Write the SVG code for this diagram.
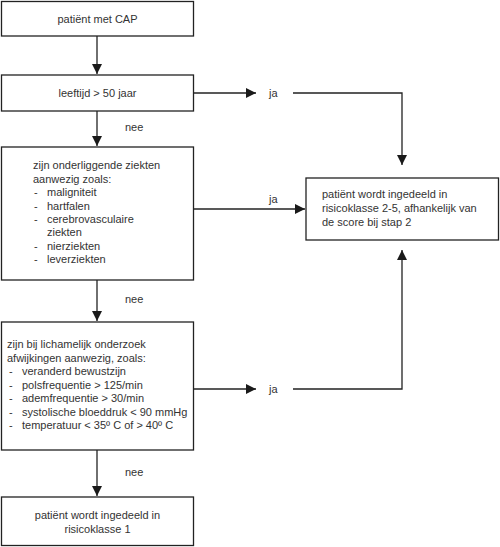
<svg xmlns="http://www.w3.org/2000/svg" width="500" height="547" viewBox="0 0 500 547">
<defs>
<marker id="ah" viewBox="0 0 10 10" refX="10" refY="5" markerWidth="10" markerHeight="10" markerUnits="userSpaceOnUse" orient="auto">
<path d="M0,0 L10,5 L0,10 z" fill="#1a1a1a"/>
</marker>
<style>
.box{fill:#fff;stroke:#222;stroke-width:1.3}
.t{font-family:"Liberation Sans",Arial,sans-serif;font-size:11px;fill:#333}
.c{text-anchor:middle}
.ln{fill:none;stroke:#222;stroke-width:1.3}
</style>
</defs>
<rect width="500" height="547" fill="#fff"/>
<g id="n1"><rect class="box" x="1.5" y="1.5" width="192" height="34.5"/><text class="t c" x="97.5" y="23">patiënt met CAP</text></g>
<g id="n2"><rect class="box" x="1.5" y="75" width="192" height="36"/><text class="t c" x="97.5" y="97">leeftijd &gt; 50 jaar</text></g>
<g id="n3"><rect class="box" x="1.5" y="147" width="192" height="133"/>
<text class="t" x="33" y="169">zijn onderliggende ziekten</text>
<text class="t" x="33" y="182.5">aanwezig zoals:</text>
<text class="t" x="34" y="196">-</text><text class="t" x="47" y="196">maligniteit</text>
<text class="t" x="34" y="209.5">-</text><text class="t" x="47" y="209.5">hartfalen</text>
<text class="t" x="34" y="223">-</text><text class="t" x="47" y="223">cerebrovasculaire</text>
<text class="t" x="47" y="236">ziekten</text>
<text class="t" x="34" y="249.5">-</text><text class="t" x="47" y="249.5">nierziekten</text>
<text class="t" x="34" y="263">-</text><text class="t" x="47" y="263">leverziekten</text>
</g>
<g id="n4"><rect class="box" x="1.5" y="322" width="192" height="128"/>
<text class="t" x="7" y="348">zijn bij lichamelijk onderzoek</text>
<text class="t" x="7" y="361.5">afwijkingen aanwezig, zoals:</text>
<text class="t" x="9" y="375">-</text><text class="t" x="22" y="375">veranderd bewustzijn</text>
<text class="t" x="9" y="388.5">-</text><text class="t" x="22" y="388.5">polsfrequentie &gt; 125/min</text>
<text class="t" x="9" y="402">-</text><text class="t" x="22" y="402">ademfrequentie &gt; 30/min</text>
<text class="t" x="9" y="415.5">-</text><text class="t" x="22" y="415.5">systolische bloeddruk &lt; 90 mmHg</text>
<text class="t" x="9" y="429">-</text><text class="t" x="22" y="429">temperatuur &lt; 35º C of &gt; 40º C</text>
</g>
<g id="n5"><rect class="box" x="1.5" y="497" width="192" height="48.5"/>
<text class="t c" x="97.5" y="519">patiënt wordt ingedeeld in</text>
<text class="t c" x="97.5" y="533">risicoklasse 1</text>
</g>
<g id="n6"><rect class="box" x="306" y="178" width="192.5" height="62"/>
<text class="t" x="322" y="198">patiënt wordt ingedeeld in</text>
<text class="t" x="322" y="212">risicoklasse 2-5, afhankelijk van</text>
<text class="t" x="322" y="226">de score bij stap 2</text>
</g>
<g id="connectors">
<line class="ln" x1="97" y1="36" x2="97" y2="74" marker-end="url(#ah)"/>
<line class="ln" x1="97" y1="111" x2="97" y2="146" marker-end="url(#ah)"/>
<line class="ln" x1="97" y1="280" x2="97" y2="321" marker-end="url(#ah)"/>
<line class="ln" x1="97" y1="450" x2="97" y2="496" marker-end="url(#ah)"/>
<line class="ln" x1="193.5" y1="93" x2="256" y2="93" marker-end="url(#ah)"/>
<polyline class="ln" points="293,93 402,93 402,165" marker-end="url(#ah)"/>
<line class="ln" x1="193.5" y1="209" x2="305" y2="209" marker-end="url(#ah)"/>
<line class="ln" x1="193.5" y1="389" x2="256" y2="389" marker-end="url(#ah)"/>
<polyline class="ln" points="293,389 402,389 402,250" marker-end="url(#ah)"/>
<text class="t" x="125" y="131">nee</text>
<text class="t" x="125" y="303">nee</text>
<text class="t" x="125" y="476">nee</text>
<text class="t" x="269" y="97">ja</text>
<text class="t" x="269" y="203">ja</text>
<text class="t" x="269" y="393">ja</text>
</g>
</svg>
